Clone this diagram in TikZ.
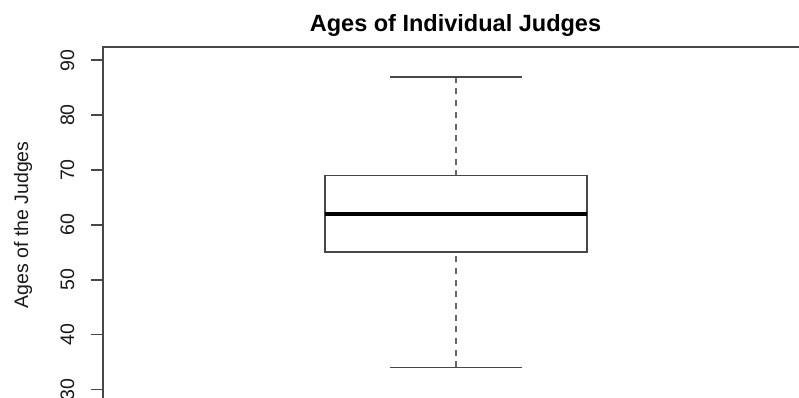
\documentclass[tikz,border=0pt]{standalone}
\usepackage{fontspec}
\setmainfont{Liberation Sans}
\usetikzlibrary{positioning}

\tikzset{
  thinline/.style={draw=black!72, line width=1.7pt},
  whiskerline/.style={thinline, draw=black!60, dash pattern=on 6pt off 5.7pt},
  medianline/.style={draw=black, line width=3.6pt},
  ticklabel/.style={rotate=90, anchor=base, inner sep=0pt, text=black!90, font=\fontsize{19.5}{22}\selectfont},
}
\newcommand{\agepos}[1]{60.3+(90-#1)*5.485}

\begin{document}
\begin{tikzpicture}[x=1pt,y=-1pt]
\useasboundingbox (0,0) rectangle (799,398);
\clip (0,0) rectangle (799,398);

\node[anchor=base, inner sep=0pt, font=\bfseries\fontsize{23.5}{26}\selectfont] (title) at (455.5,32) {Ages of Individual Judges};
\node[ticklabel] (ylab) at (28,225) {Ages of the Judges};

\draw[thinline] (103,430) -- (103,47) -- (830,47);
\foreach \v in {30,40,...,90} {
  \coordinate (tick\v) at (103,{\agepos{\v}});
  \draw[thinline] (tick\v) -- ++(-12,0);
  \node[ticklabel] (lab\v) at (74,{\agepos{\v}}) {\v};
}

\coordinate (upper) at (456,{\agepos{87}});
\coordinate (lower) at (456,{\agepos{34}});
\coordinate (q3) at (456,{\agepos{69}});
\coordinate (q1) at (456,{\agepos{55}});
\coordinate (med) at (456,{\agepos{62}});

\draw[whiskerline] (upper) -- (q3);
\draw[whiskerline] (lower) -- (q1);
\draw[thinline] ([xshift=-65.8pt]upper) -- ([xshift=65.8pt]upper);
\draw[thinline] ([xshift=-65.8pt]lower) -- ([xshift=65.8pt]lower);
\draw[thinline] ([xshift=-131.3pt]q3) rectangle ([xshift=131.3pt]q1);
\draw[medianline] ([xshift=-131.3pt]med) -- ([xshift=131.3pt]med);
\end{tikzpicture}
\end{document}
